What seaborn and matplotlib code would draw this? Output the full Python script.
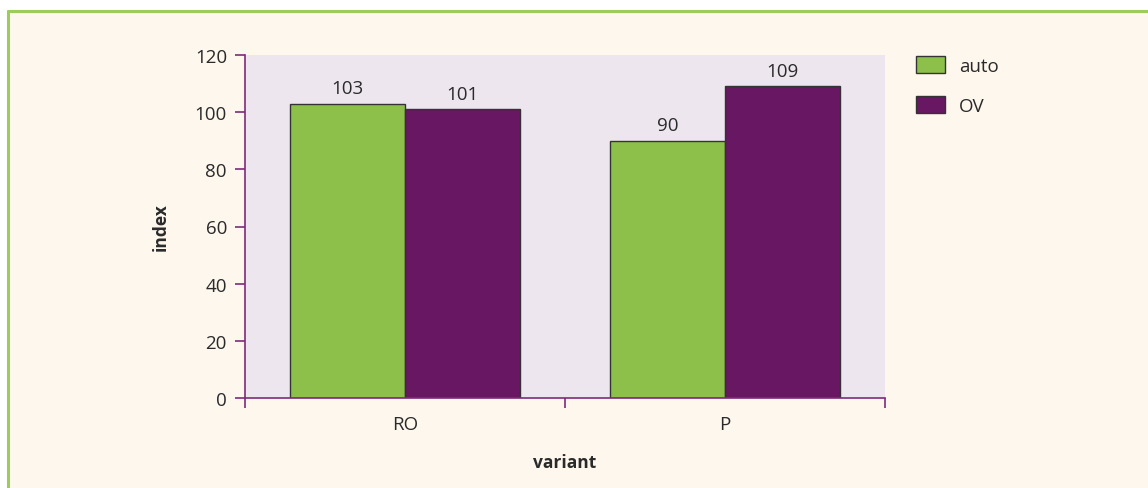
import matplotlib
matplotlib.use("Agg")
import matplotlib.pyplot as plt
import seaborn as sns
import pandas as pd
from matplotlib.patches import Rectangle, Patch
from matplotlib.lines import Line2D
from matplotlib.ticker import FixedLocator

# Data
variants = ["RO", "P"]
series = ["auto", "OV"]
auto_values = [103, 90]
ov_values = [101, 109]
y_ticks = [0, 20, 40, 60, 80, 100, 120]

df = pd.DataFrame({
    "variant": variants * 2,
    "series": [series[0]] * len(variants) + [series[1]] * len(variants),
    "index": auto_values + ov_values,
})

GREEN = "#8DC04A"
PURPLE = "#681762"
AXIS_PURPLE = "#7E2A7B"
PANEL = "#EDE6EF"
CREAM = "#FEF7EE"
FRAME = "#9DCB5E"
TEXT = "#2A2A2A"
FS = 13.5

sns.set_theme(style="white")
plt.rcParams["font.family"] = ["Open Sans", "DejaVu Sans"]

fig = plt.figure(figsize=(11.48, 4.89), dpi=100, facecolor="white")

# Cream panel with green frame on the left and top
fig.add_artist(Rectangle((8 / 1148, 0), 1, 477 / 489, transform=fig.transFigure,
                         facecolor=CREAM, edgecolor="none", zorder=-10))
fig.add_artist(Line2D([8 / 1148, 8 / 1148], [0, 477 / 489], transform=fig.transFigure,
                      color=FRAME, lw=2.2))
fig.add_artist(Line2D([8 / 1148, 1], [477 / 489, 477 / 489], transform=fig.transFigure,
                      color=FRAME, lw=2.2))

ax = fig.add_axes([245 / 1148, 90 / 489, 640 / 1148, 343 / 489])
ax.set_facecolor(PANEL)

sns.barplot(data=df, x="variant", y="index", hue="series", order=variants,
            hue_order=series, palette=[GREEN, PURPLE], saturation=1, width=0.72,
            edgecolor="#333333", linewidth=1.0, ax=ax, legend=False)

for container in ax.containers:
    ax.bar_label(container, fmt="%d", padding=4.5, fontsize=FS, color=TEXT)

ax.set_xlim(-0.5, 1.5)
ax.set_ylim(0, 120)
ax.set_yticks(y_ticks)

for side in ["top", "right"]:
    ax.spines[side].set_visible(False)
for side in ["left", "bottom"]:
    ax.spines[side].set_color(AXIS_PURPLE)
    ax.spines[side].set_linewidth(1.2)

ax.tick_params(axis="y", direction="out", length=7, width=1.2, color=AXIS_PURPLE,
               labelsize=FS, labelcolor=TEXT, pad=6, left=True)
ax.tick_params(axis="x", which="major", length=0, labelsize=FS, labelcolor=TEXT, pad=12)
ax.xaxis.set_minor_locator(FixedLocator([-0.5, 0.5, 1.5]))
ax.tick_params(axis="x", which="minor", direction="out", length=7.5, width=1.2,
               color=AXIS_PURPLE, bottom=True)

ax.set_ylabel("index", fontsize=12.5, fontweight="bold", color=TEXT, labelpad=18)
ax.set_xlabel("variant", fontsize=12.5, fontweight="bold", color=TEXT, labelpad=15)

handles = [Patch(facecolor=GREEN, edgecolor="#333333", linewidth=1.0),
           Patch(facecolor=PURPLE, edgecolor="#333333", linewidth=1.0)]
fig.legend(handles, series, loc="upper left", bbox_to_anchor=(916 / 1148, 432 / 489),
           frameon=False, fontsize=FS, handlelength=1.55, handleheight=1.05,
           handletextpad=0.75, labelspacing=1.1, borderpad=0, borderaxespad=0,
           labelcolor=TEXT)

fig.savefig("out.png", dpi=100, facecolor="white")
